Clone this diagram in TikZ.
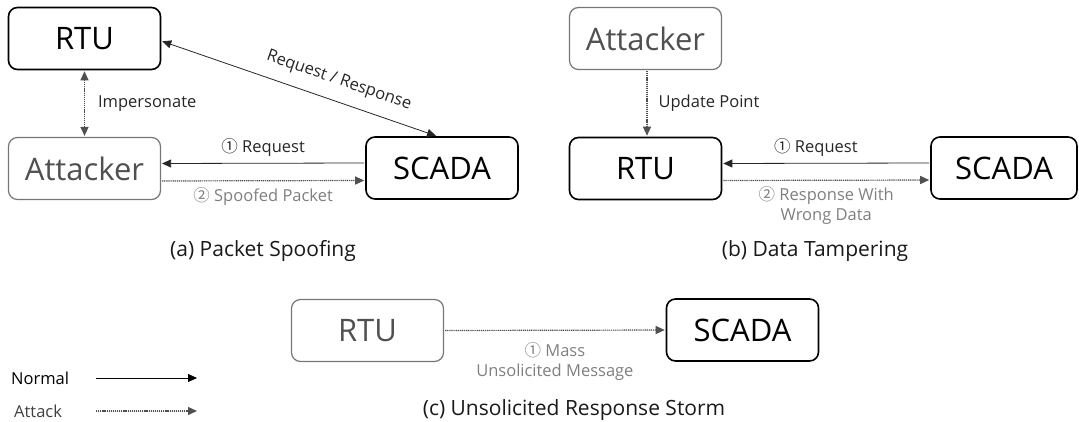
\documentclass[tikz,border=0pt]{standalone}
\usepackage{fontspec}
\setmainfont{Open Sans}
\newfontfamily\cjk{Noto Sans CJK KR}
\usetikzlibrary{arrows.meta}

\definecolor{atkgray}{HTML}{505050}
\definecolor{lblgray}{HTML}{7F7F7F}
\definecolor{boxgray}{HTML}{767676}

\begin{document}
\begin{tikzpicture}[
    x=1pt, y=-1pt,
    >={Triangle[length=9pt,width=8pt]},
    every node/.style={anchor=center},
    device/.style={draw=black, line width=1.6pt, rounded corners=9pt, minimum width=152pt, minimum height=62pt, inner sep=0pt, font=\fontsize{31}{36}\selectfont},
    rogue/.style={device, draw=boxgray, line width=1.2pt, text=atkgray},
    msg/.style={inner sep=1pt, font=\fontsize{16.5}{20}\selectfont, text=black!85},
    atkmsg/.style={msg, text=lblgray, align=center},
    subcap/.style={font=\fontsize{21}{25}\selectfont, text=black!90},
    normalflow/.style={->, line width=0.8pt, draw=black!85, shorten >=1pt, shorten <=1pt},
    attackflow/.style={->, line width=1.2pt, draw=atkgray, fill=atkgray, dash pattern=on 1.2pt off 0.9pt, shorten >=1pt, shorten <=1pt}
    ]
\useasboundingbox (0,0) rectangle (1079,422);

% (a) Packet Spoofing
\node[device] (rtuA) at (84.5,38.5) {RTU};
\node[rogue] (atkA) at (84.5,168.5) {Attacker};
\node[device] (scadaA) at (442,168) {SCADA};

\draw[normalflow, <->] ([yshift=-2.5pt]rtuA.east) -- ([xshift=-5pt]scadaA.north)
    node[pos=0.62, sloped, above=11pt, msg] {Request / Response};
\draw[attackflow, <->] (rtuA.south) -- (atkA.north)
    node[midway, right=12pt, msg, anchor=west] {Impersonate};
\draw[normalflow] ([yshift=5pt]scadaA.west) -- ([yshift=5pt]atkA.east)
    node[midway, above=5pt, msg] {{\cjk ①} Request};
\draw[attackflow] ([yshift=-12.5pt]atkA.east) -- ([yshift=-12.5pt]scadaA.west)
    node[midway, below=5pt, atkmsg] {{\cjk ②} Spoofed Packet};
\node[subcap] (capA) at (263,251) {(a) Packet Spoofing};

% (b) Data Tampering
\node[rogue] (atkB) at (645.5,38.5) {Attacker};
\node[device] (rtuB) at (645.5,168.5) {RTU};
\node[device, minimum width=146pt] (scadaB) at (1004,168) {SCADA};

\draw[attackflow] ([xshift=1.5pt]atkB.south) -- ([xshift=1.5pt]rtuB.north)
    node[midway, right=10pt, msg, anchor=west] {Update Point};
\draw[normalflow] ([yshift=5pt]scadaB.west) -- ([yshift=5pt]rtuB.east)
    node[pos=0.55, above=5pt, msg] {{\cjk ①} Request};
\draw[attackflow] ([yshift=-12pt]rtuB.east) -- ([yshift=-12pt]scadaB.west)
    node[midway, below=5pt, atkmsg] {{\cjk ②} Response With\\Wrong Data};
\node[subcap] (capB) at (815,251) {(b) Data Tampering};

% (c) Unsolicited Response Storm
\node[rogue] (rtuC) at (367.5,330.5) {RTU};
\node[device] (scadaC) at (742.5,330) {SCADA};

\draw[attackflow] (rtuC.east) -- (scadaC.west)
    node[midway, below=11pt, atkmsg] {{\cjk ①} Mass\\Unsolicited Message};
\node[subcap] (capC) at (574,410) {(c) Unsolicited Response Storm};

% Legend
\node[msg, anchor=west, text=black] (lgNormal) at (10,378) {Normal};
\node[msg, anchor=west, text=black!75] (lgAttack) at (13,411) {Attack};
\coordinate (nrmStart) at (95,378);
\coordinate (nrmEnd) at (198,378);
\coordinate (atkStart) at (95,411);
\coordinate (atkEnd) at (198,411);
\draw[normalflow, draw=black] (nrmStart) -- (nrmEnd);
\draw[attackflow] (atkStart) -- (atkEnd);

\end{tikzpicture}
\end{document}
